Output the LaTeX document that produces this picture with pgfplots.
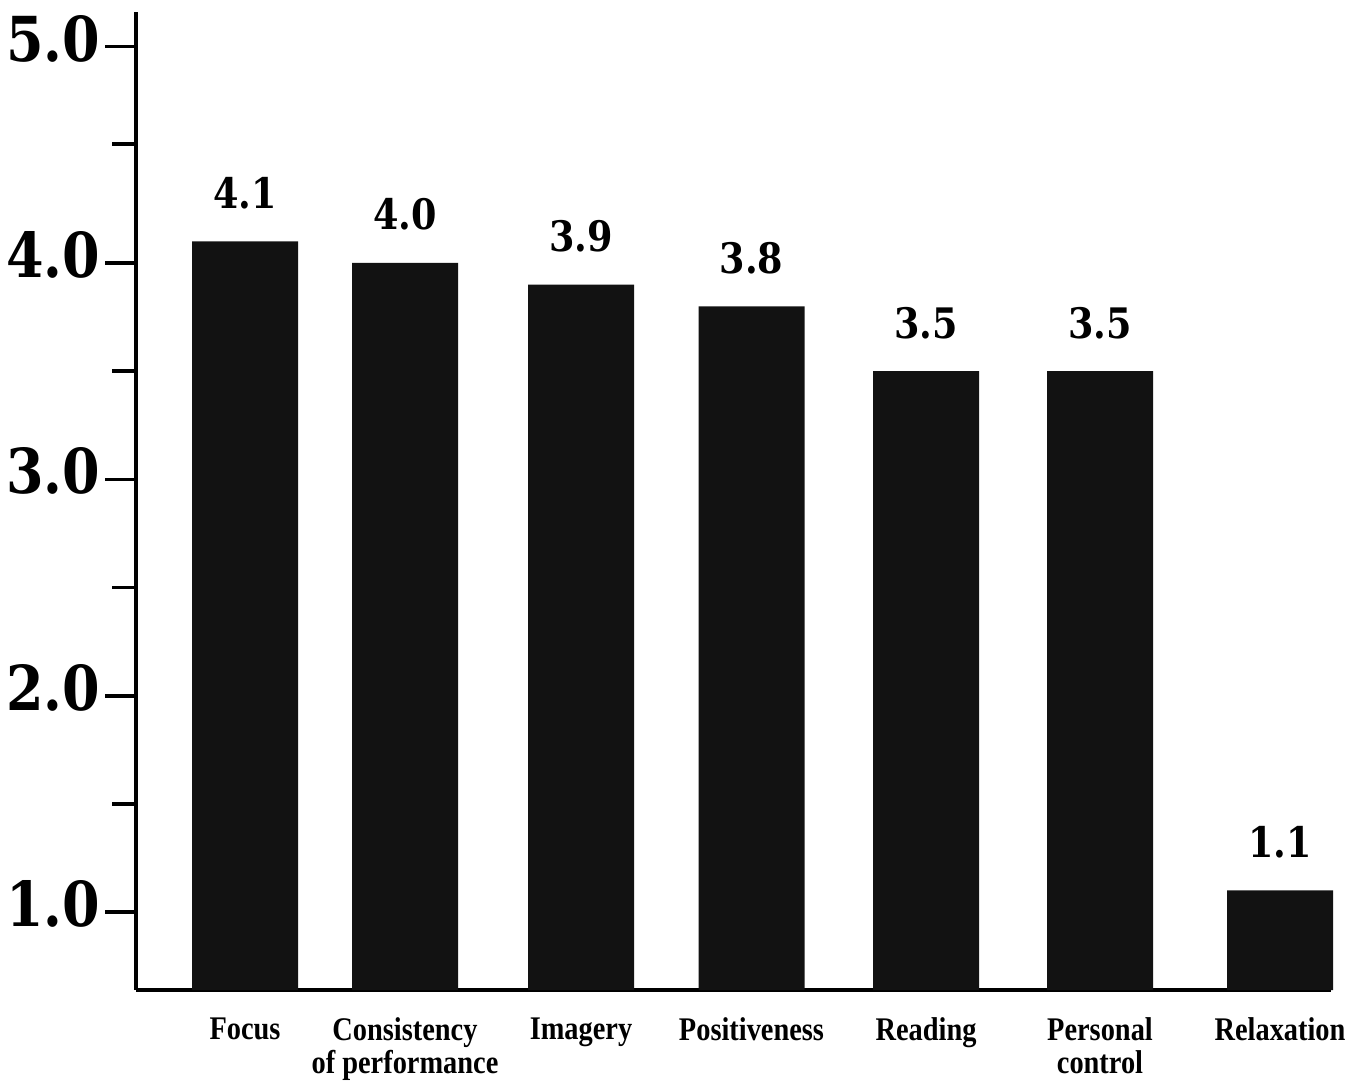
\documentclass[border=0pt]{standalone}
\usepackage{pgfplots}
\pgfplotsset{compat=1.18}
\usepackage{fontspec}
\newfontfamily\numfont[FakeStretch=0.87]{DejaVu Serif}
\newfontfamily\catfont[FakeStretch=0.86]{Liberation Serif}

\begin{document}
\begin{tikzpicture}
\useasboundingbox (0,0) rectangle (676.5pt,541pt);
\begin{axis}[
  at={(68pt,46pt)}, anchor=south west,
  scale only axis, width=597.5pt, height=489pt,
  xmin=136, xmax=1331, ymin=0.64, ymax=5.16,
  axis x line=bottom, axis y line=left,
  axis line style={-, line width=1.7pt, black},
  clip=false,
  /pgf/number format/assume math mode=true,
  ytick={1,2,3,4,5},
  minor ytick={1.5,2.5,3.5,4.55},
  tick align=outside,
  major tick length=15.5pt, minor tick length=12pt,
  every tick/.style={black, line width=1.8pt},
  yticklabel style={font=\numfont\bfseries\fontsize{31}{32}\selectfont,
    yshift=4pt, xshift=1pt,
    /pgf/number format/.cd, fixed, fixed zerofill, precision=1},
  ytick style={line width=1.8pt},
  xtick=data,
  xtick style={draw=none},
  xticklabels={Focus, {Consistency\\of performance}, Imagery, Positiveness,
    Reading, {Personal\\control}, Relaxation},
  xticklabel style={font=\catfont\bfseries\fontsize{16.5}{16.5}\selectfont,
    align=center, anchor=north, inner sep=0pt, yshift=2pt},
  nodes near coords,
  every node near coord/.append style={
    font=\numfont\bfseries\fontsize{21}{22}\selectfont,
    anchor=south, inner sep=0pt, yshift=16pt,
    /pgf/number format/.cd, fixed, fixed zerofill, precision=1},
]
\addplot[ybar, bar width=106, fill=black!93, draw=none] coordinates {
  (245,4.1) (405,4.0) (581,3.9) (751.5,3.8) (926,3.5) (1100,3.5) (1280,1.1)
};
\end{axis}
\end{tikzpicture}
\end{document}
